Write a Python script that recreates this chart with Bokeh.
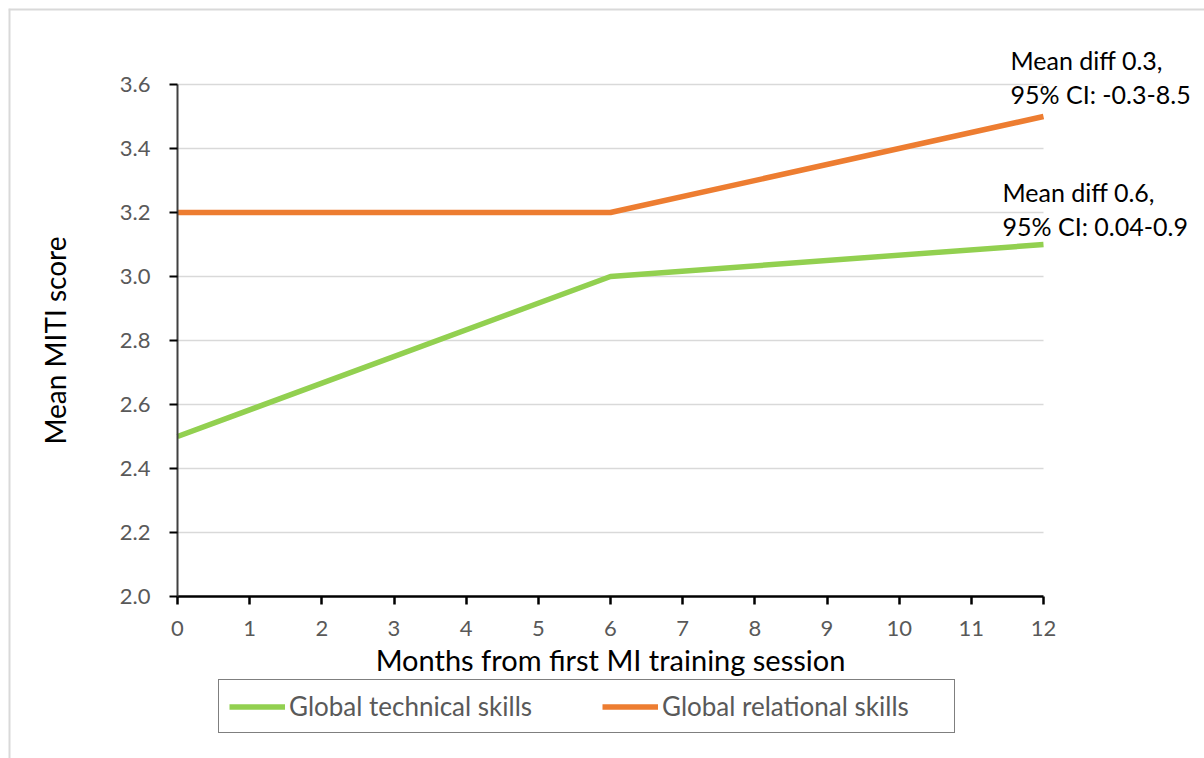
from bokeh.plotting import figure
from bokeh.models import Range1d, Legend, LegendItem, Label, FixedTicker, LinearAxis, NumeralTickFormatter, Span
from bokeh.embed import file_html
from bokeh.resources import INLINE

# ---- data ----
months = [0, 6, 12]
technical = [2.5, 3.0, 3.1]
relational = [3.2, 3.2, 3.5]
x_ticks = list(range(0, 13))
y_ticks = [2.0, 2.2, 2.4, 2.6, 2.8, 3.0, 3.2, 3.4, 3.6]
series_names = ["Global technical skills", "Global relational skills"]
note_texts = ["Mean diff 0.3,\n95% CI: -0.3-8.5", "Mean diff 0.6,\n95% CI: 0.04-0.9"]

FONT = "Lato"
W, H = 1204, 758
OFF = 8                      # chart-area border offset inside the canvas
FW, FH = W - OFF, H - OFF    # frame size
# plot-area pixel box inside the frame (layout only)
FL, FR, FT, FB = 169, 1035, 76, 588
X0, X1, Y0, Y1 = 0.0, 12.0, 2.0, 3.6
sx = (FR - FL) / (X1 - X0)
sy = (FB - FT) / (Y1 - Y0)
x_range = Range1d(X0 - FL / sx, X1 + (FW - FR) / sx)
y_range = Range1d(Y0 - (FH - FB) / sy, Y1 + FT / sy)

p = figure(width=W, height=H, output_backend="svg", toolbar_location=None,
           x_range=x_range, y_range=y_range,
           x_axis_location=None, y_axis_location=None,
           min_border_left=OFF, min_border_top=OFF, min_border_right=0, min_border_bottom=0)
p.outline_line_color = None
p.background_fill_color = "white"
p.border_fill_color = "white"
p.grid.visible = False

# chart-area border (left and top visible)
p.add_layout(Span(location=x_range.start, dimension="height", line_color="#d9d9d9", line_width=4))
p.add_layout(Span(location=y_range.end, dimension="width", line_color="#d9d9d9", line_width=4))

# horizontal gridlines (excluding the axis line at 2.0)
grid_y = [t for t in y_ticks if t > Y0]
p.segment(x0=[X0] * len(grid_y), x1=[X1] * len(grid_y), y0=grid_y, y1=grid_y,
          line_color="#d9d9d9", line_width=1.5)

xaxis = LinearAxis(fixed_location=Y0, bounds=(X0, X1), ticker=FixedTicker(ticks=x_ticks))
yaxis = LinearAxis(fixed_location=X0, bounds=(Y0, Y1), ticker=FixedTicker(ticks=y_ticks),
                   formatter=NumeralTickFormatter(format="0.0"))
for ax in (xaxis, yaxis):
    ax.major_label_text_font = FONT
    ax.major_label_text_font_size = "22px"
    ax.major_label_text_color = "#595959"
    ax.axis_label_text_font = FONT
    ax.axis_label_text_font_style = "normal"
    ax.axis_label_text_color = "black"
    ax.minor_tick_line_color = None
    ax.major_tick_in = 0
    ax.major_tick_out = 8
xaxis.axis_line_color = "black"
xaxis.axis_line_width = 2.5
xaxis.major_tick_line_color = "black"
xaxis.major_tick_line_width = 2.5
xaxis.major_label_standoff = 16
xaxis.axis_label = "Months from first MI training session"
xaxis.axis_label_text_font_size = "29px"
xaxis.axis_label_standoff = 3
yaxis.axis_line_color = "#404040"
yaxis.axis_line_width = 2
yaxis.major_tick_line_color = "black"
yaxis.major_tick_line_width = 2
yaxis.major_label_standoff = 19
yaxis.axis_label = "Mean MITI score"
yaxis.axis_label_text_font_size = "28px"
yaxis.axis_label_standoff = 45
p.add_layout(xaxis, "below")
p.add_layout(yaxis, "left")

r1 = p.line(months, technical, line_color="#92D050", line_width=5.5)
r2 = p.line(months, relational, line_color="#ED7D31", line_width=5.5)

legend = Legend(items=[LegendItem(label=series_names[0], renderers=[r1]),
                       LegendItem(label=series_names[1], renderers=[r2])],
                orientation="horizontal", location=(210, 25),
                border_line_color="black", border_line_width=1.2,
                label_text_font=FONT, label_text_font_size="26px", label_text_color="#595959",
                glyph_width=56, glyph_height=27, label_height=27, label_standoff=4,
                label_width=282, spacing=31,
                padding=10, margin=0, background_fill_alpha=1)
p.add_layout(legend, "center")

# annotations next to the line ends
p.add_layout(Label(x=months[-1], y=relational[-1], text=note_texts[0], x_offset=-33, y_offset=72,
                   text_font=FONT, text_font_size="25px", text_color="black",
                   text_baseline="top", text_align="left", text_line_height=1.15))
p.add_layout(Label(x=months[-1], y=technical[-1], text=note_texts[1], x_offset=-41, y_offset=68,
                   text_font=FONT, text_font_size="25px", text_color="black",
                   text_baseline="top", text_align="left", text_line_height=1.15))

open("out.html", "w").write(file_html(p, INLINE))
